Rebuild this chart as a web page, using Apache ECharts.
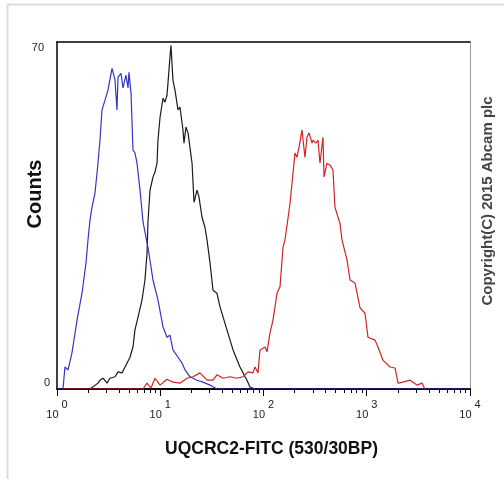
<!DOCTYPE html>
<html>
<head>
<meta charset="utf-8">
<script src="https://cdn.jsdelivr.net/npm/echarts@6/dist/echarts.min.js"></script>
<style>html,body{margin:0;padding:0;background:#fff}#c{width:504px;height:479px}</style>
</head>
<body>
<div id="c"></div>
<script>
// Decade position (log10 of fluorescence) and counts
const blueExp = [0, 0.058, 0.077, 0.107, 0.145, 0.194, 0.242, 0.281, 0.300, 0.320, 0.339, 0.368, 0.397, 0.416, 0.436, 0.465, 0.494, 0.533, 0.562, 0.581, 0.591, 0.620, 0.639, 0.668, 0.688, 0.697, 0.717, 0.736, 0.755, 0.775, 0.804, 0.833, 0.881, 0.930, 0.978, 1.027, 1.065, 1.094, 1.123, 1.172, 1.211, 1.240, 1.288, 1.356, 1.414, 1.482, 1.549, 4];
const blueCounts = [0, 0, 4.5, 3.9, 7.4, 14.1, 19.6, 25.8, 30.5, 34.6, 37.2, 40.1, 46.2, 50.9, 57.1, 59.1, 61.2, 65.6, 63.2, 57.1, 63.8, 64.6, 61.6, 64.2, 61.6, 64.8, 60.5, 48.9, 48.3, 46.2, 40.7, 34.2, 29.0, 22.3, 18.2, 12.7, 10.6, 11.0, 8.0, 6.5, 5.3, 3.9, 2.5, 1.8, 1.4, 0.8, 0, 0];

const blackExp = [0.320, 0.397, 0.416, 0.446, 0.484, 0.513, 0.562, 0.591, 0.630, 0.659, 0.707, 0.736, 0.755, 0.785, 0.823, 0.852, 0.872, 0.881, 0.901, 0.930, 0.949, 0.969, 0.978, 0.998, 1.027, 1.046, 1.065, 1.075, 1.094, 1.104, 1.123, 1.143, 1.172, 1.191, 1.220, 1.230, 1.249, 1.269, 1.308, 1.327, 1.356, 1.375, 1.404, 1.433, 1.453, 1.482, 1.511, 1.549, 1.579, 1.646, 1.705, 1.772, 1.840, 1.869, 1.918];
const blackCounts = [0, 1.2, 1.8, 2.2, 1.2, 2.2, 2.5, 3.5, 3.3, 4.5, 6.5, 8.6, 12.1, 14.7, 18.2, 22.3, 27.8, 34.2, 40.7, 43.4, 44.4, 46.2, 50.9, 55.6, 59.5, 58.7, 60.1, 62.6, 67.9, 70.3, 63.2, 61.1, 57.1, 57.7, 53.0, 50.3, 53.6, 52.4, 46.2, 38.2, 40.7, 39.3, 35.2, 33.1, 30.5, 25.8, 20.2, 19.6, 16.8, 12.1, 8.0, 4.5, 1.8, 0.4, 0];

const redExp = [0.058, 0.833, 0.872, 0.910, 0.949, 0.998, 1.065, 1.123, 1.191, 1.259, 1.317, 1.385, 1.453, 1.511, 1.549, 1.608, 1.676, 1.743, 1.801, 1.850, 1.869, 1.898, 1.918, 1.947, 1.966, 1.985, 2.015, 2.034, 2.063, 2.092, 2.131, 2.160, 2.189, 2.208, 2.228, 2.257, 2.286, 2.305, 2.324, 2.344, 2.373, 2.383, 2.402, 2.421, 2.441, 2.470, 2.479, 2.508, 2.528, 2.547, 2.576, 2.586, 2.615, 2.644, 2.673, 2.692, 2.721, 2.741, 2.760, 2.809, 2.838, 2.886, 2.935, 2.983, 3.012, 3.080, 3.109, 3.157, 3.225, 3.274, 3.303, 3.351, 3.419, 3.487, 3.535, 3.564];
const redCounts = [0, 0, 1.2, 0.2, 2.2, 0.8, 2.0, 1.4, 1.2, 2.2, 2.5, 3.3, 1.8, 1.8, 2.9, 2.2, 2.5, 2.2, 2.5, 3.5, 3.9, 3.3, 4.5, 3.3, 8.0, 8.4, 8.6, 7.6, 11.5, 14.1, 19.6, 20.9, 29.0, 30.5, 33.5, 38.0, 44.2, 48.3, 47.4, 49.5, 53.0, 50.9, 47.4, 51.5, 52.4, 50.3, 50.9, 50.3, 50.9, 46.2, 51.5, 43.4, 46.2, 45.8, 44.8, 37.2, 35.2, 33.9, 30.5, 26.4, 22.3, 21.7, 16.6, 15.5, 10.6, 10.0, 8.6, 5.9, 4.5, 4.3, 1.2, 1.4, 1.8, 0.8, 1.2, 0];

const majorTicks = [1, 10, 100, 1000, 10000];
const minorTicks = [2, 3, 4, 5, 6, 7, 8, 9, 20, 30, 40, 50, 60, 70, 80, 90, 200, 300, 400, 500, 600, 700, 800, 900, 2000, 3000, 4000, 5000, 6000, 7000, 8000, 9000];
const yTickLabels = [0, 70];
const xTitle = 'UQCRC2-FITC (530/30BP)';
const yTitle = 'Counts';
const copyright = 'Copyright(C) 2015 Abcam plc';

const FONT = 'Liberation Sans, Arial, sans-serif';
function pairs(ex, cs) { return ex.map((e, i) => [Math.pow(10, e), cs[i]]); }

const chart = echarts.init(document.getElementById('c'), null, {renderer: 'canvas'});
chart.setOption({
  backgroundColor: '#fff',
  animation: false,
  grid: {left: 57, right: 34, top: 42, bottom: 90, containLabel: false, outerBoundsMode: 'none'},
  xAxis: [
    {
      type: 'log', logBase: 10, min: 1, max: 10000, position: 'bottom',
      axisLine: {show: true, lineStyle: {color: '#000', width: 2}},
      axisTick: {show: true, length: 7, lineStyle: {color: '#000', width: 1}, customValues: majorTicks},
      splitLine: {show: false}, minorTick: {show: false},
      axisLabel: {
        customValues: majorTicks, margin: 10, color: '#222', fontFamily: FONT, fontSize: 11,
        formatter: function (v) { return '{b|10}{s|' + Math.round(Math.log10(v)) + '}'; },
        rich: {
          b: {fontSize: 11, fontFamily: FONT, color: '#222', padding: [10, 0, 0, 0]},
          s: {fontSize: 11, fontFamily: FONT, color: '#222', padding: [0, 0, 10, 3]}
        }
      },
      name: xTitle, nameLocation: 'middle', nameGap: 51, nameMoveOverlap: false,
      nameTextStyle: {fontFamily: FONT, fontSize: 17.5, fontWeight: 'bold', color: '#111', padding: [0, 0, 0, 16]}
    },
    {
      type: 'log', logBase: 10, min: 1, max: 10000, position: 'bottom',
      axisLine: {show: false},
      axisTick: {show: true, length: 4, lineStyle: {color: '#000', width: 1}, customValues: minorTicks},
      axisLabel: {show: false}, splitLine: {show: false}
    },
    {
      type: 'log', logBase: 10, min: 1, max: 10000, position: 'top',
      axisLine: {show: true, lineStyle: {color: '#000', width: 1.5}},
      axisTick: {show: false}, axisLabel: {show: false}, splitLine: {show: false}
    }
  ],
  yAxis: [
    {
      type: 'value', min: 0, max: 71, position: 'left',
      axisLine: {show: true, lineStyle: {color: '#000', width: 1.5}},
      axisTick: {show: false}, splitLine: {show: false},
      axisLabel: {
        customValues: yTickLabels, margin: 7, color: '#222', fontFamily: FONT, fontSize: 11,
        formatter: function (v) { return v === 0 ? '{z|0}' : '{t|' + v + '}'; },
        rich: {
          z: {fontSize: 11, fontFamily: FONT, color: '#222', padding: [0, 0, 12, 0]},
          t: {fontSize: 11, fontFamily: FONT, color: '#222', padding: [2, 6, 0, 0]}
        }
      },
      name: yTitle, nameLocation: 'middle', nameGap: 12, nameRotate: 90, nameMoveOverlap: false,
      nameTextStyle: {fontFamily: FONT, fontSize: 20, fontWeight: 'bold', color: '#111', padding: [0, 0, 0, 43]}
    },
    {
      type: 'value', min: 0, max: 71, position: 'right',
      axisLine: {show: true, lineStyle: {color: '#9a9a9a', width: 1}},
      axisTick: {show: false}, axisLabel: {show: false}, splitLine: {show: false}
    }
  ],
  graphic: [
    {type: 'rect', left: 5, top: 2, shape: {x: 0, y: 0, width: 600, height: 476}, style: {fill: 'none', stroke: '#dcdcdc', lineWidth: 2}, silent: true, z: -1},
    {type: 'text', x: 488, y: 201, rotation: Math.PI / 2,
     style: {text: copyright, fontFamily: FONT, fontSize: 15, fontWeight: 'bold', fill: '#444', align: 'center', verticalAlign: 'middle'}}
  ],
  series: [
    {name: 'black', type: 'line', xAxisIndex: 0, yAxisIndex: 0, showSymbol: false, data: pairs(blackExp, blackCounts),
     lineStyle: {color: '#1a1a1a', width: 1.2}, itemStyle: {color: '#1a1a1a'}},
    {name: 'blue', type: 'line', xAxisIndex: 0, yAxisIndex: 0, showSymbol: false, data: pairs(blueExp, blueCounts),
     lineStyle: {color: '#3434c8', width: 1.2}, itemStyle: {color: '#3434c8'}},
    {name: 'red', type: 'line', xAxisIndex: 0, yAxisIndex: 0, showSymbol: false, data: pairs(redExp, redCounts),
     lineStyle: {color: '#d02424', width: 1.2}, itemStyle: {color: '#d02424'}}
  ]
});
</script>
</body>
</html>
